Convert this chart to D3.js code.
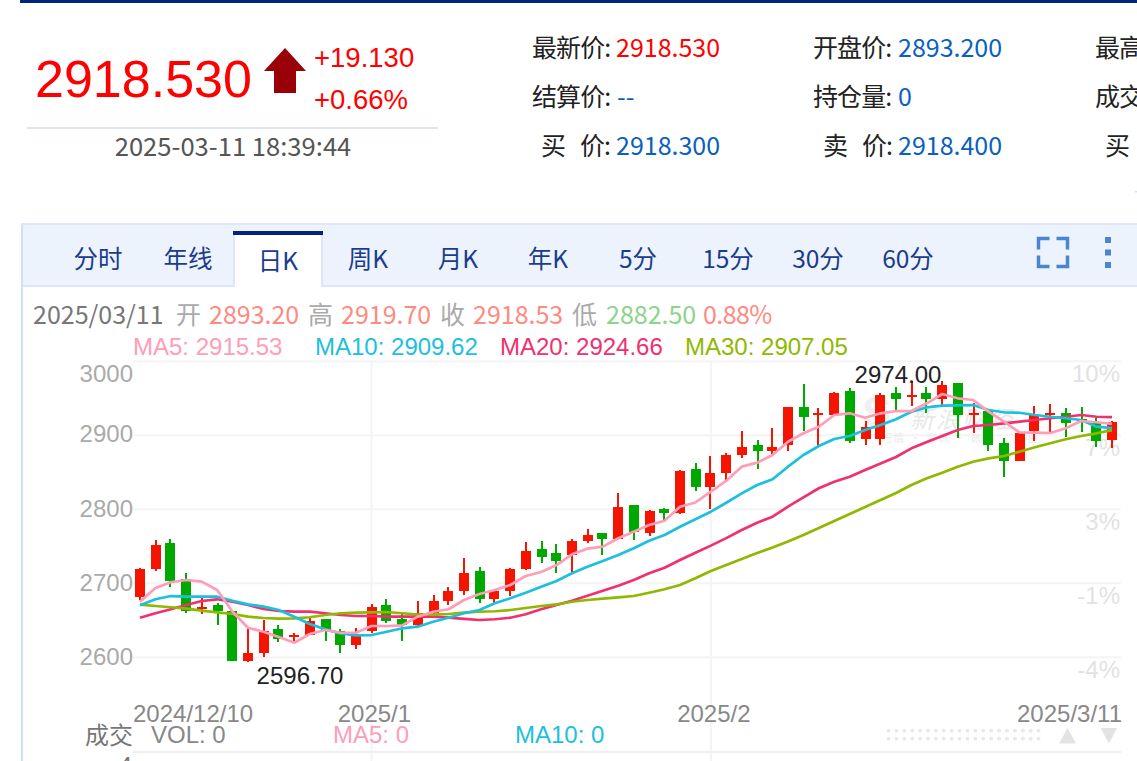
<!DOCTYPE html>
<html><head><meta charset="utf-8">
<script src="https://cdn.jsdelivr.net/npm/d3@7/dist/d3.min.js"></script>
<style>html,body{margin:0;padding:0;background:#fff;overflow:hidden}svg{display:block}</style>
</head><body><svg id="c" width="1137" height="761"></svg>
<script>
const opens=[2682,2719.3,2754.4,2705.8,2665.6,2670.7,2662.6,2595,2605.8,2638.2,2628.1,2630.1,2651.7,2635.5,2616.6,2635.5,2670.7,2651.7,2643.6,2659.9,2676.1,2689.6,2716.6,2678.8,2689.6,2719.3,2746.3,2740.9,2738.2,2757.1,2767.9,2759.8,2805.8,2767.9,2800.4,2795,2854.4,2830.1,2849,2873.3,2886.8,2878.7,2886.8,2938.2,2928.1,2927.4,2959.8,2895,2895,2957.1,2951.7,2957.1,2949,2970.6,2928.1,2932.8,2889.5,2865.2,2905.8,2927.4,2930.1,2922,2916.6,2893.2];
const closes=[2719.3,2751.7,2703.1,2662.6,2668,2662.6,2595,2605.8,2635.5,2624.7,2630.1,2649,2635.5,2616.6,2630.1,2668,2649,2643.6,2659.9,2676.1,2689.6,2713.9,2678.8,2689.6,2719.3,2743.6,2735.5,2730.1,2757.1,2765.2,2759.8,2803.1,2769.3,2797.7,2795,2851.7,2830.1,2849,2873.3,2884.1,2878.7,2884.1,2938.2,2924.7,2930.1,2957.1,2892.2,2911.2,2954.4,2949,2954.4,2949,2967.9,2927.4,2930.1,2886.8,2865.2,2903.1,2927.4,2930.1,2916.6,2920.6,2892.2,2918.53];
const highs=[2720.6,2758.5,2759.8,2714.3,2680,2673.4,2662.6,2638.2,2650.4,2643.6,2632.8,2653.1,2651.7,2638.2,2639.6,2672,2678.8,2658.5,2676.1,2684.6,2695,2734.1,2722,2690.9,2720.6,2756.2,2757.5,2753,2760.2,2773.3,2767.9,2822,2805.8,2799,2801.7,2853.1,2862.5,2872,2876,2905.8,2893.6,2909.8,2938.2,2969.3,2936.9,2958.5,2963.9,2919.3,2957.1,2965.2,2973.3,2965.2,2974,2970.6,2943.6,2932.8,2896.3,2903.1,2939.6,2942.3,2936.9,2938.2,2923.3,2919.7];
const lows=[2678,2717,2694.5,2660.2,2658.5,2643.6,2595,2593.6,2600.4,2620.6,2622,2630.1,2622,2605.8,2611.2,2632.8,2646.3,2622,2642.3,2657.1,2670.7,2684.2,2673.4,2672,2682.9,2717.9,2727.4,2713.9,2714.3,2754.4,2738.2,2759.8,2758.5,2763.9,2785.5,2793.6,2824.7,2800.4,2839.6,2869.3,2854.4,2874.7,2878.7,2905.8,2885.5,2927.4,2889.5,2886.8,2886.8,2934.1,2939.6,2930.1,2940.9,2896.3,2903.1,2878.7,2843.6,2865.2,2892.2,2904.4,2897.7,2904.4,2884.1,2882.5];
const ma5=[2675.1,2693.6,2701.4,2704.5,2702.2,2690.9,2661.6,2640,2634.6,2627.4,2619.7,2631.5,2636.9,2633.2,2633.2,2642.3,2642.3,2643.2,2654.9,2661.6,2664.9,2677.4,2685.5,2690.9,2697.7,2709.9,2715.3,2724.7,2739.2,2746.8,2749.5,2760.8,2769.7,2778.8,2784.6,2803.5,2809.2,2823.8,2838.6,2857.6,2863,2873.4,2891.3,2902.7,2911.6,2927.4,2929.7,2923.8,2929.7,2932.8,2932.8,2943.2,2955.8,2950,2947.7,2931.9,2918.4,2904,2903.5,2903.1,2909.5,2919.3,2917.6,2915.53];
const ma10=[2670.3,2678.4,2682.8,2681.9,2681.9,2681.9,2676.5,2671.6,2668.4,2663.9,2654.9,2645,2637.8,2632.4,2629.7,2630.1,2634.6,2639.2,2641.4,2648.1,2653.5,2659.5,2663.9,2673,2679.7,2687.3,2695.4,2703.1,2713.5,2722.4,2730.1,2738.2,2747.3,2757.6,2765.3,2776.5,2786.5,2796.8,2808.9,2821.6,2832.8,2840.5,2857.6,2873.4,2885.5,2895,2899.1,2907.2,2913.9,2921.6,2931.9,2937.8,2940,2940.5,2940.9,2934.2,2931.1,2930.5,2927.4,2925.1,2923,2920.7,2911.6,2909.62];
const ma20=[2653.5,2659.5,2664.9,2670.7,2676.1,2678.4,2675.1,2670.7,2665.3,2662.6,2661.6,2661.6,2659.5,2657.2,2655.8,2655.8,2654.9,2654.9,2654.9,2654.9,2653.5,2651.8,2650.4,2651.4,2653.5,2658.1,2664.9,2670.7,2676.5,2683.2,2690,2696.8,2704.5,2713.5,2721.1,2731.5,2741.4,2750.9,2761,2772,2781.9,2790,2803.5,2816.2,2828.4,2837.3,2844,2853.1,2861.9,2870.7,2882.4,2890.9,2899.1,2907.2,2912.6,2913.9,2916.2,2918.4,2920.7,2923,2925.1,2927.4,2925.1,2924.66];
const ma30=[2671.1,2669.3,2667.6,2665.7,2663,2660.8,2658.5,2654.9,2653.1,2652.2,2652.7,2654.1,2657.2,2659.5,2660.3,2660.8,2661.2,2659.5,2657.6,2657.6,2658.5,2660.3,2661.6,2662.2,2663.9,2666.6,2669.3,2671.6,2675.1,2677.4,2679.2,2681.1,2682.8,2687.3,2691.9,2697.7,2706.8,2716.6,2724.7,2732.8,2740.9,2748.4,2756.5,2765.3,2774.7,2784.2,2793.6,2803.1,2812.6,2822,2832.8,2841.9,2849.5,2857.6,2864.3,2868.9,2872,2877.8,2883.8,2889.2,2894.6,2899.1,2902.7,2907.05];
const priceTicks=[3000,2900,2800,2700,2600];
const pctLabels=["10%","7%","3%","-1%","-4%"];
const monthTicks=[{i:15,label:"2025/1"},{i:37,label:"2025/2"}];
const tabs=["分时","年线","日K","周K","月K","年K","5分","15分","30分","60分"];

const AR="'Liberation Sans',Arial,sans-serif", CJ="'Noto Sans CJK SC','Noto Sans',sans-serif";
const svg=d3.select("#c");
function T(x,y,s,size,fill,fam,anchor){return svg.append("text").attr("x",x).attr("y",y).attr("font-size",size).attr("fill",fill).attr("font-family",fam||CJ).attr("text-anchor",anchor||"start").text(s);}
function R(x,y,w,h,f){return svg.append("rect").attr("x",x).attr("y",y).attr("width",w).attr("height",h).attr("fill",f);}
function Lb(x,y,s){return T(x,y,s,25,"#222").attr("letter-spacing",-0.9);}

// header
R(20,0,1117,3,"#01257d");
T(35,97,"2918.530",52,"#ff0000",AR);
svg.append("polygon").attr("points","285,48 306,71 296,71 296,93 274,93 274,71 264,71").attr("fill","#990008");
T(314,67,"+19.130",27.5,"#ff0000",AR);
T(314,109,"+0.66%",27.5,"#ff0000",AR);
R(27,127,411,2,"#dbe4f0");
T(233,156,"2025-03-11 18:39:44",25.6,"#555",CJ,"middle");
const BL="#0b5fbf";
Lb(532,57,"最新价:");T(616,57,"2918.530",25,"#ff0000");
Lb(813,57,"开盘价:");T(898,57,"2893.200",25,BL);
Lb(1095,57,"最高价:");
Lb(532,106,"结算价:");T(617,106,"--",25,BL);
Lb(813,106,"持仓量:");T(898,106,"0",25,BL);
Lb(1095,106,"成交量:");
Lb(541,155,"买");Lb(580,155,"价:");T(616,155,"2918.300",25,BL);
Lb(823,155,"卖");Lb(862,155,"价:");T(898,155,"2918.400",25,BL);
Lb(1105,155,"买");
R(1135,191,2,1.5,"#cfe2f5");

// panel + tabs
R(21,223,2,538,"#cfe2f5");
R(21,223,1116,2,"#dfe8f5");
R(23,225,1114,60,"#edf3fd");
R(23,285,1114,2,"#dde6f5");
R(233,231,90,56,"#fff");
R(233,235,2,52,"#dde6f5");R(321,235,2,52,"#dde6f5");
R(233,231,90,4,"#01257d");
tabs.forEach((t,k)=>T(98+k*90,k==2?270:268,t,24.5,"#1b3c8c",CJ,"middle"));
const ic="#4a85d0";
[[1037,237,1,1],[1069,237,-1,1],[1037,268,1,-1],[1069,268,-1,-1]].forEach(([x,y,a,b])=>{
  svg.append("path").attr("d",`M${x+a*11},${y}H${x}V${y+b*11}`).attr("transform",`translate(${a*1.5},${b*1.5})`).attr("fill","none").attr("stroke",ic).attr("stroke-width",3.5);
});
R(1105,237,6,6,ic);R(1105,249.5,6,6,ic);R(1105,262,6,6,ic);

// info line
const G="#aaa",PK="#ff8a80";
T(33,324,"2025/03/11",25,"#777");
T(176,324,"开",25,G);T(209,324,"2893.20",25,PK);
T(308,324,"高",25,G);T(341,324,"2919.70",25,PK);
T(440,324,"收",25,G);T(473,324,"2918.53",25,PK);
T(572,324,"低",25,G);T(606,324,"2882.50",25,"#8cd48c");
T(703,324,"0.88%",25,PK).attr("letter-spacing",-0.6);
const cMA5="#ff9db8",cMA10="#1cc0de",cMA20="#f0306f",cMA30="#8fb800";
T(133,355,"MA5: "+ma5[63],24,cMA5,AR);
T(315,355,"MA10: "+ma10[63],24,cMA10,AR);
T(500,355,"MA20: "+ma20[63],24,cMA20,AR);
T(685,355,"MA30: "+ma30[63],24,cMA30,AR);

// scales
const x=d3.scaleLinear().domain([0,63]).range([140,1112]);
const y=d3.scaleLinear().domain([2600,3000]).range([657.3,361.3]);
const L=133,Rr=1121,GR="#f4f4f4";

// grid
priceTicks.forEach(p=>svg.append("line").attr("x1",L).attr("x2",Rr).attr("y1",y(p)).attr("y2",y(p)).attr("stroke",GR).attr("stroke-width",2));
monthTicks.forEach(m=>svg.append("line").attr("x1",x(m.i)).attr("x2",x(m.i)).attr("y1",362).attr("y2",761).attr("stroke",GR).attr("stroke-width",2));
R(L,751,Rr-L,2,"#eeeeee");

// watermark
T(862,428,"S",44,"#f0f0f0",AR).attr("font-weight","bold");
T(910,428,"新浪财经",24,"#e8e8e8",CJ).attr("font-style","italic").attr("letter-spacing",2);
T(882,442,"行情 · 资讯 · 数据 · 财经",10,"#eaeaea",CJ).attr("letter-spacing",2);

// left axis
const ax=svg.append("g").attr("transform",`translate(${L},0)`).call(d3.axisLeft(y).tickValues(priceTicks).tickSize(0).tickPadding(0).tickFormat(d3.format("d")));
ax.select(".domain").remove();
ax.selectAll("text").attr("font-size",24).attr("font-family",AR).attr("fill","#aaa").attr("dy","0.32em");
ax.selectAll(".tick").filter(d=>d===3000).select("text").attr("dy","0.86em");
ax.selectAll(".tick").filter(d=>d===2900).select("text").attr("transform","translate(0,-1.5)");
// right labels
priceTicks.forEach((p,i)=>T(1120,y(p)+20.5,pctLabels[i],24,"#e2e2e2",AR,"end"));

// candles
const idx=d3.range(opens.length);
const col=i=>closes[i]>=opens[i]?"#f51400":"#00a800";
const sx=i=>2*Math.round(x(i)/2);
const g=svg.append("g").attr("shape-rendering","crispEdges");
g.selectAll("rect.w").data(idx).join("rect").attr("class","w")
  .attr("x",i=>sx(i)-1).attr("width",2)
  .attr("y",i=>y(highs[i])).attr("height",i=>Math.max(1,y(lows[i])-y(highs[i])))
  .attr("fill",col);
g.selectAll("rect.b").data(idx).join("rect").attr("class","b")
  .attr("x",i=>sx(i)-5).attr("width",10)
  .attr("y",i=>y(Math.max(opens[i],closes[i])))
  .attr("height",i=>Math.max(1.5,Math.abs(y(opens[i])-y(closes[i]))))
  .attr("fill",col);

// moving averages
const line=d3.line().x((d,i)=>x(i)).y(d=>y(d));
[[ma20,cMA20],[ma30,cMA30],[ma10,cMA10],[ma5,cMA5]].forEach(([s,c])=>{
  svg.append("path").attr("d",line(s)).attr("fill","none").attr("stroke",c).attr("stroke-width",2.7).attr("stroke-linejoin","round");
});

// extremes
T(898,383,"2974.00",24,"#222",AR,"middle");
T(300,684,"2596.70",24,"#222",AR,"middle");

// x labels
const XC="#888";
T(133,722,"2024/12/10",24,XC,AR);
monthTicks.forEach(m=>T(x(m.i)+3,722,m.label,24,XC,AR,"middle"));
T(1122,722,"2025/3/11",24,XC,AR,"end");

// volume pane head
T(85,744,"成交",24,"#777");
T(151,743,"VOL: 0",24,"#888",AR);
T(333,743,"MA5: 0",24,cMA5,AR);
T(515,743,"MA10: 0",24,cMA10,AR);
T(132,774,"4",24,"#777",AR,"end");

// scroller
[730.7,738.7].forEach(cy=>d3.range(20).forEach(k=>svg.append("circle").attr("cx",888.5+k*7.9).attr("cy",cy).attr("r",1.9).attr("fill","#e8e8e8")));
svg.append("polygon").attr("points","1067.5,728 1076,743.5 1059,743.5").attr("fill","#e3e3e3");
svg.append("polygon").attr("points","1100.5,728 1117,728 1109,743.5").attr("fill","#e3e3e3");
</script></body></html>
